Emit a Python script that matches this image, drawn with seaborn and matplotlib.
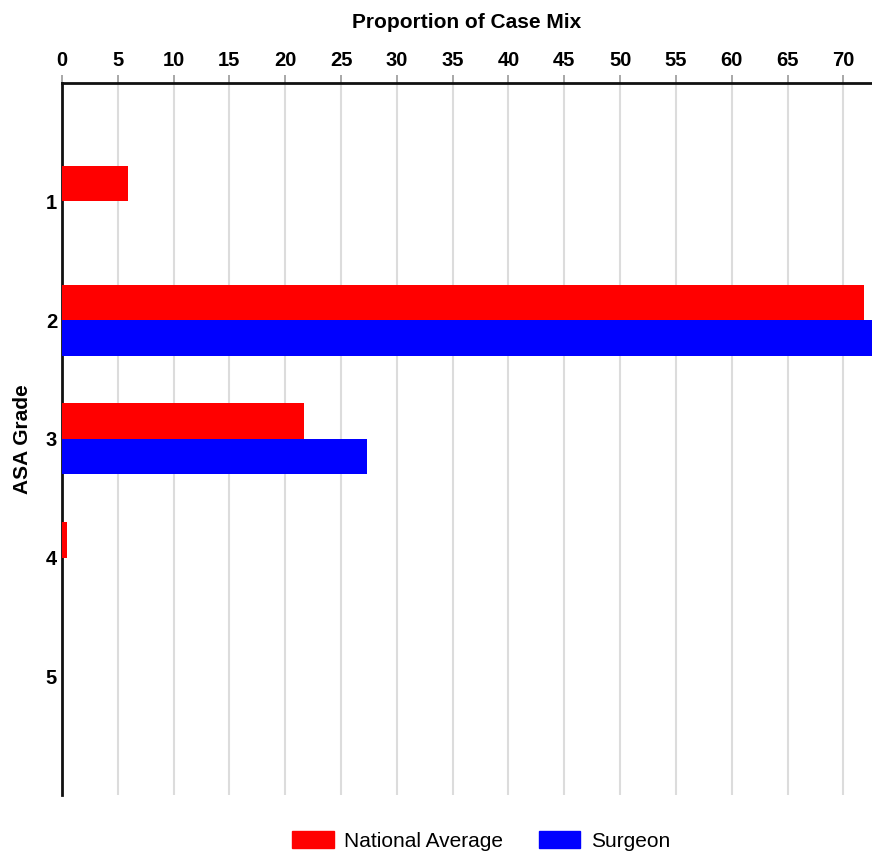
import pandas as pd
import matplotlib.pyplot as plt
import seaborn as sns

grades = ["1", "2", "3", "4", "5"]
national_average = [5.95, 71.85, 21.7, 0.45, 0.0]
surgeon = [0.0, 72.6, 27.3, 0.0, 0.0]
series_names = ["National Average", "Surgeon"]
colors = {"National Average": "#ff0000", "Surgeon": "#0000ff"}
x_ticks = list(range(0, 75, 5))


def plot_case_mix():
    df = pd.DataFrame({
        "ASA Grade": grades * 2,
        "Proportion": national_average + surgeon,
        "Series": [series_names[0]] * len(grades) + [series_names[1]] * len(grades),
    })

    sns.set_style("white", rc={"text.color": "black", "axes.labelcolor": "black",
                               "xtick.color": "black", "ytick.color": "black"})
    plt.rcParams["font.family"] = ["Liberation Sans", "DejaVu Sans"]

    fig = plt.figure(figsize=(8.72, 8.52), dpi=100)
    ax = fig.add_axes([62 / 872, 57 / 852, 810 / 872, 712.3 / 852])

    sns.barplot(data=df, x="Proportion", y="ASA Grade", hue="Series",
                order=grades, hue_order=series_names, palette=colors,
                orient="h", width=0.6, linewidth=0, saturation=1,
                ax=ax, legend=False, zorder=3)

    ax.set_xlim(0, 72.57)
    ax.set_ylim(len(grades), -1)
    ax.set_xticks(x_ticks)
    ax.xaxis.tick_top()
    ax.xaxis.set_label_position("top")
    ax.set_xlabel("Proportion of Case Mix", fontsize=15, fontweight="bold", labelpad=16)
    ax.set_ylabel("ASA Grade", fontsize=15, fontweight="bold", labelpad=10)

    ax.grid(axis="x", color="#dcdcdc", linewidth=1.5, zorder=0)
    ax.set_axisbelow(True)
    ax.tick_params(axis="x", top=True, bottom=False, length=6, width=1.2,
                   color="#999999", labelcolor="black", labelsize=14.5, pad=3.5)
    ax.tick_params(axis="y", left=False, length=0, labelsize=14.5, pad=3.5)
    for lbl in ax.get_xticklabels() + ax.get_yticklabels():
        lbl.set_fontweight("bold")

    for side in ["right", "bottom"]:
        ax.spines[side].set_visible(False)
    for side in ["left", "top"]:
        ax.spines[side].set_color("#111111")
        ax.spines[side].set_linewidth(2)

    handles = [plt.Rectangle((0, 0), 1, 1, color=colors[s]) for s in series_names]
    fig.legend(handles, series_names, loc="center", bbox_to_anchor=(481 / 872, 1 - 841 / 852),
               ncol=2, frameon=False, fontsize=15, handlelength=2.0, handleheight=0.9,
               handletextpad=0.5, columnspacing=1.7)

    fig.savefig("out.png", dpi=100)


if __name__ == "__main__":
    plot_case_mix()
